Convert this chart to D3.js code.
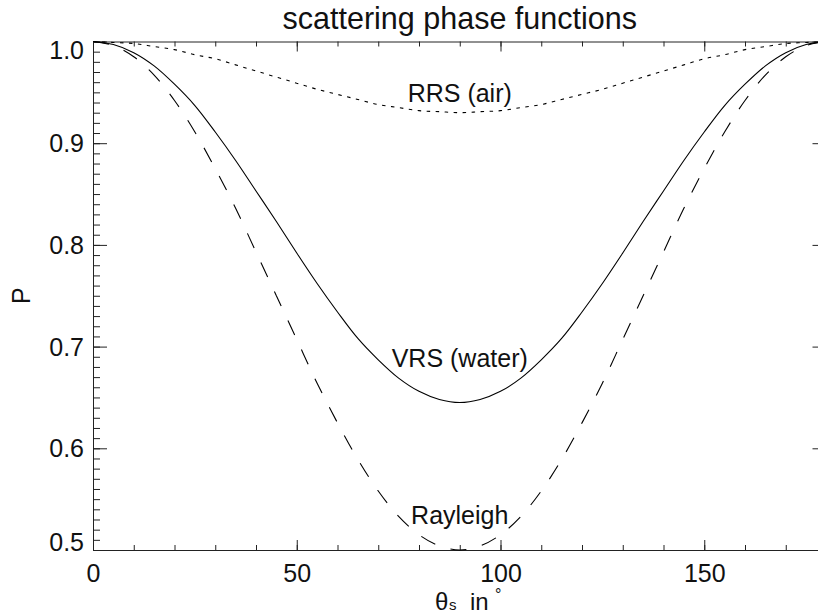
<!DOCTYPE html>
<html lang="en">
<head>
    <meta charset="UTF-8">
    <script src="https://d3js.org/d3.v7.min.js"></script>
    <title>scattering phase functions</title>
    <style>
        html,
        body {
            margin: 0px;
            padding: 0px;
            background-color: #ffffff;
            overflow: hidden;
            font-family: "Liberation Sans", Arial, Helvetica, sans-serif;
        }
        svg { display: block; }
        .axis path, .axis line { stroke: #222; stroke-width: 1px; }
        .axis text { font-family: "Liberation Sans", Arial, sans-serif; font-size: 25px; fill: #111; }
    </style>
</head>
<body>
    <div id="chart"></div>
    <script>

        // scattering angle in degrees
        let theta = [0, 5, 10, 15, 20, 25, 30, 35, 40, 45, 50, 55, 60, 65, 70, 75, 80, 85, 90,
                     95, 100, 105, 110, 115, 120, 125, 130, 135, 140, 145, 150, 155, 160, 165, 170, 175, 180];

        // values
        let rayleigh = [1.000, 0.996, 0.985, 0.967, 0.942, 0.911, 0.875, 0.836, 0.793, 0.750, 0.707, 0.664, 0.625, 0.589, 0.558, 0.533, 0.515, 0.504, 0.500,
                        0.504, 0.515, 0.533, 0.558, 0.589, 0.625, 0.664, 0.707, 0.750, 0.793, 0.836, 0.875, 0.911, 0.942, 0.967, 0.985, 0.996, 1.000];
        let vrs = [1.000, 0.997, 0.989, 0.976, 0.958, 0.937, 0.911, 0.883, 0.853, 0.823, 0.792, 0.762, 0.734, 0.708, 0.687, 0.669, 0.656, 0.648, 0.645,
                   0.648, 0.656, 0.669, 0.687, 0.708, 0.734, 0.762, 0.792, 0.823, 0.853, 0.883, 0.911, 0.937, 0.958, 0.976, 0.989, 0.997, 1.000];
        let rrs = [1.000, 0.999, 0.998, 0.995, 0.992, 0.987, 0.983, 0.977, 0.971, 0.965, 0.959, 0.953, 0.948, 0.943, 0.938, 0.935, 0.932, 0.931, 0.930,
                   0.931, 0.932, 0.935, 0.938, 0.943, 0.948, 0.953, 0.959, 0.965, 0.971, 0.977, 0.983, 0.987, 0.992, 0.995, 0.998, 0.999, 1.000];

        let xMajor = [0, 50, 100, 150];
        let xMinor = d3.range(0, 181, 10);
        let yMajor = [0.5, 0.6, 0.7, 0.8, 0.9, 1.0];
        let yMinor = d3.range(50, 101, 1).map(v => v / 100);

        let series = [
            {name: 'Rayleigh', values: rayleigh, dash: '16,16', labelY: 524},
            {name: 'VRS (water)', values: vrs, dash: null, labelY: 367},
            {name: 'RRS (air)', values: rrs, dash: '3.5,5.5', labelY: 102}
        ];

        let width = 818;
        let height = 615;
        let plotLeft = 93, plotRight = 826.5, plotTop = 41.5, plotBottom = 550;

        let svg = d3.select('#chart').append('svg').attr('width', width).attr('height', height);

        let x = d3.scaleLinear().domain([0, 180]).range([plotLeft, plotRight]);
        let y = d3.scaleLinear().domain([0.5, 1.0]).range([plotBottom, plotTop]);

        // bottom axis
        svg.append('g').attr('class', 'axis')
            .attr('transform', `translate(0,${plotBottom})`)
            .call(d3.axisBottom(x).tickValues(xMinor).tickSize(-5).tickSizeOuter(0).tickFormat(''));
        svg.append('g').attr('class', 'axis')
            .attr('transform', `translate(0,${plotBottom})`)
            .call(d3.axisBottom(x).tickValues(xMajor).tickSize(-10).tickSizeOuter(0).tickPadding(14).tickFormat(d3.format('d')))
            .call(g => g.select('.domain').remove());

        // top axis
        svg.append('g').attr('class', 'axis')
            .attr('transform', `translate(0,${plotTop})`)
            .call(d3.axisTop(x).tickValues(xMinor).tickSize(-5).tickSizeOuter(0).tickFormat(''));
        svg.append('g').attr('class', 'axis')
            .attr('transform', `translate(0,${plotTop})`)
            .call(d3.axisTop(x).tickValues(xMajor).tickSize(-10).tickSizeOuter(0).tickFormat(''))
            .call(g => g.select('.domain').remove());

        // left axis
        svg.append('g').attr('class', 'axis')
            .attr('transform', `translate(${plotLeft},0)`)
            .call(d3.axisLeft(y).tickValues(yMinor).tickSize(-7).tickSizeOuter(0).tickFormat(''));
        svg.append('g').attr('class', 'axis')
            .attr('transform', `translate(${plotLeft},0)`)
            .call(d3.axisLeft(y).tickValues(yMajor).tickSize(-14).tickSizeOuter(0).tickPadding(9).tickFormat(d3.format('.1f')))
            .call(g => g.select('.domain').remove())
            .call(g => g.selectAll('.tick text')
                .attr('dy', null)
                .attr('y', d => Math.max(plotTop + 16.5, Math.min(plotBottom, y(d) + 8.5)) - y(d)));

        // right axis
        svg.append('g').attr('class', 'axis')
            .attr('transform', `translate(${plotRight},0)`)
            .call(d3.axisRight(y).tickValues(yMinor).tickSize(-7).tickSizeOuter(0).tickFormat(''));
        svg.append('g').attr('class', 'axis')
            .attr('transform', `translate(${plotRight},0)`)
            .call(d3.axisRight(y).tickValues(yMajor).tickSize(-14).tickSizeOuter(0).tickFormat(''))
            .call(g => g.select('.domain').remove());

        let line = d3.line()
            .x((d, i) => x(theta[i]))
            .y(d => y(d))
            .curve(d3.curveCatmullRom);

        svg.selectAll('path.curve')
            .data(series)
            .join('path')
            .attr('class', 'curve')
            .attr('d', d => line(d.values))
            .attr('fill', 'none')
            .attr('stroke', '#000')
            .attr('stroke-width', 1.1)
            .attr('stroke-dasharray', d => d.dash);

        svg.selectAll('text.label')
            .data(series)
            .join('text')
            .attr('class', 'label')
            .attr('x', x(90))
            .attr('y', d => d.labelY)
            .attr('text-anchor', 'middle')
            .attr('font-size', '25px')
            .attr('fill', '#111')
            .text(d => d.name);

        // title
        svg.append('text')
            .attr('x', x(90))
            .attr('y', 28.5)
            .attr('text-anchor', 'middle')
            .attr('font-size', '30.5px')
            .attr('fill', '#111')
            .text('scattering phase functions');

        // y title
        svg.append('text')
            .attr('transform', `translate(30,${(plotTop + plotBottom) / 2}) rotate(-90)`)
            .attr('text-anchor', 'middle')
            .attr('font-size', '25px')
            .attr('fill', '#111')
            .text('P');

        // x title
        let xt = svg.append('text').attr('y', 610).attr('font-size', '24px').attr('fill', '#111');
        xt.append('tspan').attr('x', 435).text('θ');
        xt.append('tspan').attr('x', 449).attr('font-size', '15px').text('s');
        xt.append('tspan').attr('x', 470).text('in');
        xt.append('tspan').attr('x', 495).attr('y', 600).attr('font-size', '16px').text('°');

    </script>
</body>
</html>
